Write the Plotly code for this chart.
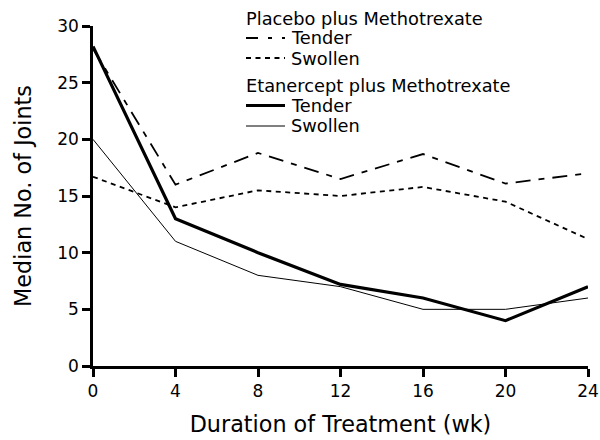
import plotly.graph_objects as go

weeks = [0, 4, 8, 12, 16, 20, 24]
placebo_tender = [28.0, 16.0, 18.8, 16.5, 18.7, 16.1, 17.0]
placebo_swollen = [16.7, 14.0, 15.5, 15.0, 15.8, 14.5, 11.2]
etan_tender = [28.2, 13.0, 10.0, 7.2, 6.0, 4.0, 7.0]
etan_swollen = [20.0, 11.0, 8.0, 7.0, 5.0, 5.0, 6.0]

x_ticks = [0, 4, 8, 12, 16, 20, 24]
y_ticks = [0, 5, 10, 15, 20, 25, 30]

FONT = "DejaVu Sans, sans-serif"
W, H = 600, 440
L, R, T, B = 93, 12, 26, 74
PW, PH = W - L - R, H - T - B


def px(x):
    return (x - L) / PW


def py(y):
    return (H - B - y) / PH


styles = {
    "pt": dict(color="black", width=1.8, dash="15px,8px,6px,8px"),
    "ps": dict(color="black", width=1.8, dash="5px,4.5px"),
    "et": dict(color="black", width=3.2),
    "es": dict(color="black", width=1),
}

fig = go.Figure()
for key, ys in [("pt", placebo_tender), ("ps", placebo_swollen),
                ("et", etan_tender), ("es", etan_swollen)]:
    fig.add_trace(go.Scatter(x=weeks, y=ys, mode="lines", showlegend=False,
                             line=styles[key], hoverinfo="skip"))

# manual legend (layout decoration, in pixel-based paper coordinates)
LEG_FONT = dict(family=FONT, size=17.8, color="black")
legend_rows = [
    ("Placebo plus Methotrexate", None, 18),
    ("Tender", dict(color="black", width=1.8, dash="12px,10px,4px,10px"), 38),
    ("Swollen", dict(color="black", width=1.8, dash="5px,4.5px"), 58),
    ("Etanercept plus Methotrexate", None, 85),
    ("Tender", styles["et"], 105.5),
    ("Swollen", styles["es"], 126),
]
annotations = []
shapes = []
for text, lstyle, yy in legend_rows:
    if lstyle is None:
        annotations.append(dict(x=px(244), y=py(yy), xref="paper", yref="paper",
                                text=text, showarrow=False, xanchor="left",
                                yanchor="middle", font=LEG_FONT))
    else:
        shapes.append(dict(type="line", xref="paper", yref="paper",
                           x0=px(246), x1=px(285), y0=py(yy), y1=py(yy),
                           line=lstyle))
        annotations.append(dict(x=px(289), y=py(yy), xref="paper", yref="paper",
                                text=text, showarrow=False, xanchor="left",
                                yanchor="middle", font=LEG_FONT))

fig.update_layout(
    width=W, height=H,
    margin=dict(l=L, r=R, t=T, b=B, autoexpand=False),
    paper_bgcolor="white", plot_bgcolor="white",
    font=dict(family=FONT, size=16, color="black"),
    showlegend=False,
    annotations=annotations,
    shapes=shapes,
    xaxis=dict(range=[0, 24], tickvals=x_ticks, ticktext=[str(v) for v in x_ticks],
               showline=True, linecolor="black", linewidth=2.5, ticks="outside",
               ticklen=8, tickwidth=2.5, tickcolor="black", showgrid=False, zeroline=False,
               tickfont=dict(size=17),
               title=dict(text="Duration of Treatment (wk)", font=dict(size=22.3), standoff=17)),
    yaxis=dict(range=[0, 30], tickvals=y_ticks, ticktext=[str(v) for v in y_ticks],
               showline=True, linecolor="black", linewidth=2.5, ticks="outside",
               ticklen=8, tickwidth=2.5, tickcolor="black", showgrid=False, zeroline=False,
               tickfont=dict(size=17),
               title=dict(text="Median No. of Joints", font=dict(size=22.3), standoff=20)),
)

fig.write_html("out.html", config={"displayModeBar": False},
               post_script="document.body.style.margin='0';document.body.style.padding='0';")
